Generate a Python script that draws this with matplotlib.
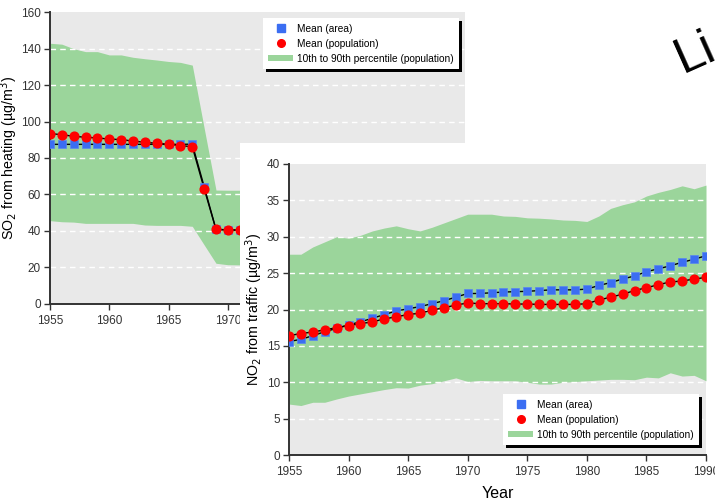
import matplotlib
matplotlib.use('Agg')
import matplotlib.pyplot as plt
from matplotlib.lines import Line2D
from matplotlib.patches import Patch

# SO2 from heating (left-top panel), only the visible part
so2_years = list(range(1955, 1973))
so2_area = [87.5, 87.5, 87.5, 87.5, 87.5, 87.5, 87.5, 87.5, 87.5, 87.5, 87.5, 87.5, 87.6,
            64.3, 40.8, 40.6, 40.4, 40.3]
so2_pop = [93.4, 92.8, 91.9, 91.4, 91.0, 90.4, 90.1, 89.3, 88.6, 88.1, 87.5, 86.8, 86.2,
           63.2, 40.8, 40.5, 40.3, 40.2]
so2_p90 = [143.0, 142.5, 140.0, 138.4, 138.4, 136.6, 136.6, 135.3, 134.5, 133.8, 133.0, 132.5,
           131.0, 96.5, 62.4, 62.3, 62.3, 62.3]
so2_p10 = [45.6, 45.0, 44.8, 44.1, 44.1, 44.1, 44.1, 44.1, 43.2, 43.0, 43.0, 43.0, 42.5,
           32.3, 22.2, 21.4, 21.3, 21.3]

# NO2 from traffic (front panel)
no2_years = list(range(1955, 1991))
no2_area = [15.6, 15.9, 16.4, 16.95, 17.4, 17.9, 18.3, 18.8, 19.3, 19.8, 20.1, 20.4, 20.8,
            21.2, 21.7, 22.2, 22.2, 22.3, 22.4, 22.45, 22.5, 22.6, 22.7, 22.7, 22.7, 22.8,
            23.3, 23.7, 24.2, 24.6, 25.2, 25.6, 26.0, 26.5, 26.9, 27.4]
no2_pop = [16.4, 16.7, 16.9, 17.2, 17.5, 17.8, 18.05, 18.3, 18.7, 19.0, 19.3, 19.5, 19.9,
           20.25, 20.6, 20.9, 20.8, 20.8, 20.8, 20.75, 20.75, 20.7, 20.7, 20.7, 20.7, 20.8,
           21.3, 21.7, 22.1, 22.6, 23.0, 23.4, 23.8, 23.9, 24.2, 24.4]
no2_p90 = [27.6, 27.6, 28.6, 29.3, 30.0, 29.8, 30.2, 30.8, 31.2, 31.5, 31.1, 30.8, 31.3,
           31.9, 32.5, 33.1, 33.1, 33.1, 32.85, 32.8, 32.6, 32.55, 32.45, 32.3, 32.25, 32.1,
           32.85, 33.9, 34.4, 34.8, 35.6, 36.1, 36.5, 37.0, 36.6, 37.1]
no2_p10 = [7.0, 6.8, 7.25, 7.25, 7.7, 8.1, 8.4, 8.7, 9.0, 9.25, 9.2, 9.6, 9.8, 10.2, 10.6,
           10.1, 10.25, 10.2, 10.2, 10.2, 10.0, 9.75, 9.75, 10.0, 10.1, 10.2, 10.3, 10.4,
           10.4, 10.35, 10.7, 10.6, 11.3, 10.85, 10.95, 10.2]

leg_labels = ['Mean (area)', 'Mean (population)', '10th to 90th percentile (population)']

BG = '#e9e9e9'
GREEN = '#9bd59b'
BLUE = '#3b6ef2'
RED = '#ff0000'
TICKC = '#333333'
FONT = 'Liberation Sans'

W, H = 715, 501
fig = plt.figure(figsize=(7.15, 5.01), dpi=100)


def px_axes(l, t, r, b, **kw):
    return fig.add_axes([l / W, 1 - b / H, (r - l) / W, (b - t) / H], **kw)


def style(ax, ymax, ystep):
    ax.set_facecolor(BG)
    for s in ['top', 'right']:
        ax.spines[s].set_visible(False)
    for s in ['left', 'bottom']:
        ax.spines[s].set_color('#333333')
        ax.spines[s].set_linewidth(1.4)
    ax.set_xlim(1955, 1990)
    ax.set_ylim(0, ymax)
    ax.set_xticks(range(1955, 1991, 5))
    ax.set_yticks(range(0, ymax + 1, ystep))
    ax.tick_params(length=4, width=1, color='#333333', labelcolor=TICKC)
    ax.tick_params(axis='y', pad=2.5)
    ax.tick_params(axis='x', pad=4)
    for lab in ax.get_xticklabels() + ax.get_yticklabels():
        lab.set_family(FONT)
        lab.set_fontsize(8.5)
    for y in range(ystep, ymax, ystep):
        ax.axhline(y, color='white', lw=1, ls=(0, (4, 3)), zorder=2)


def draw(ax, yrs, area, pop, p10, p90):
    ax.fill_between(yrs, p10, p90, color=GREEN, lw=0, zorder=1)
    ax.plot(yrs, area, color='black', lw=1, zorder=3)
    ax.plot(yrs, pop, color='black', lw=1, zorder=3)
    ax.plot(yrs, area, ls='none', marker='s', ms=6.3, mfc=BLUE, mec='#5a86f0', mew=0.5, zorder=4)
    ax.plot(yrs, pop, ls='none', marker='o', ms=6.3, mfc=RED, mec=RED, zorder=5)


def legend(ax, right, top):
    handles = [Line2D([], [], ls='none', marker='s', ms=5.5, mfc=BLUE, mec=BLUE),
               Line2D([], [], ls='none', marker='o', ms=5.5, mfc=RED, mec=RED),
               Patch(facecolor=GREEN, edgecolor='none')]
    lg = ax.legend(handles, leg_labels, loc='upper right',
                   bbox_to_anchor=(right / W, 1 - top / H), bbox_transform=fig.transFigure,
                   borderaxespad=0, fancybox=False, framealpha=1,
                   shadow={'color': 'black', 'alpha': 1},
                   handlelength=2.4, handleheight=0.6, handletextpad=0.4,
                   labelspacing=0.5, borderpad=0.55,
                   prop={'family': FONT, 'size': 7.3})
    lg.get_frame().set_edgecolor('white')
    lg.get_frame().set_linewidth(0)
    return lg


# back panel: SO2
ax1 = px_axes(50, 12.3, 465, 303.7)
style(ax1, 160, 20)
draw(ax1, so2_years, so2_area, so2_pop, so2_p10, so2_p90)
ax1.set_ylabel('SO$_2$ from heating (µg/m$^3$)', fontsize=10.3, family=FONT)
ax1.yaxis.set_label_coords(-0.072, 0.5)
legend(ax1, 459, 18)

# white sheet of the front panel
sheet = px_axes(240, 143, 715, 501)
sheet.set_facecolor('white')
sheet.set_xticks([])
sheet.set_yticks([])
for s in sheet.spines.values():
    s.set_visible(False)

# front panel: NO2
ax2 = px_axes(289, 164, 706, 455)
style(ax2, 40, 5)
draw(ax2, no2_years, no2_area, no2_pop, no2_p10, no2_p90)
ax2.set_ylabel('NO$_2$ from traffic (µg/m$^3$)', fontsize=10.3, family=FONT)
ax2.yaxis.set_label_coords(-0.058, 0.5)
ax2.set_xlabel('Year', fontsize=11.5, family=FONT)
ax2.xaxis.set_label_coords(0.5, -0.105)
legend(ax2, 699, 394)

fig.text(683 / W, 1 - 73 / H, 'Li', fontsize=36, family=FONT, rotation=24,
         ha='left', va='baseline', rotation_mode='anchor')

fig.savefig('out.png', dpi=100)
